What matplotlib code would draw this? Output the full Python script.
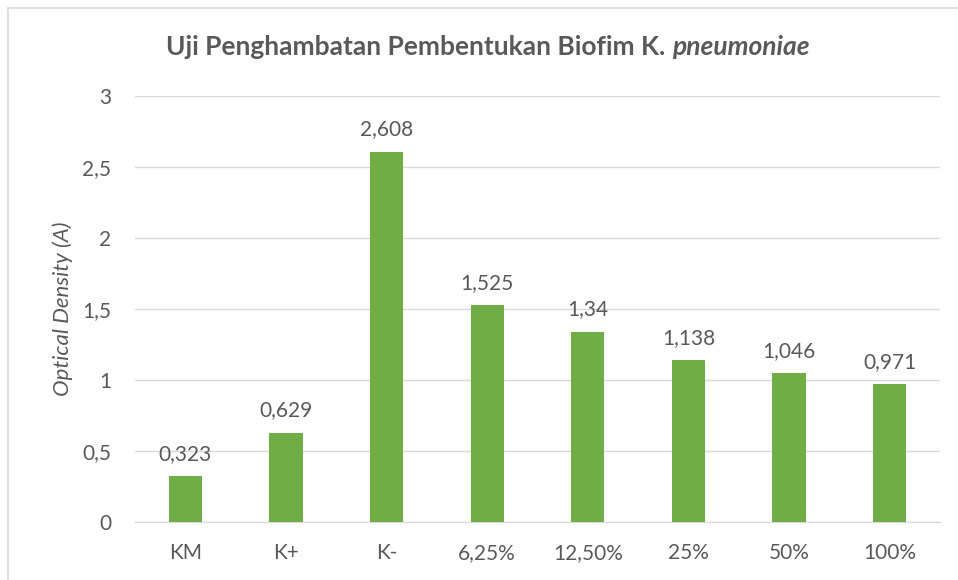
import matplotlib.pyplot as plt
from matplotlib.lines import Line2D

categories = ["KM", "K+", "K-", "6,25%", "12,50%", "25%", "50%", "100%"]
values = [0.323, 0.629, 2.608, 1.525, 1.34, 1.138, 1.046, 0.971]
value_labels = ["0,323", "0,629", "2,608", "1,525", "1,34", "1,138", "1,046", "0,971"]
yticks = [0, 0.5, 1, 1.5, 2, 2.5, 3]
ytick_labels = ["0", "0,5", "1", "1,5", "2", "2,5", "3"]

TEXT = "#595959"
GRID = "#D9D9D9"
BAR = "#70AD47"

plt.rcParams["font.family"] = ["Lato", "DejaVu Sans"]

fig = plt.figure(figsize=(9.58, 5.8), dpi=100)
ax = fig.add_axes([0.1409, 0.1, 0.8403, 0.7345])

x = range(len(categories))
ax.bar(x, values, width=0.33, color=BAR, zorder=3)
for xi, v, lbl in zip(x, values, value_labels):
    ax.annotate(lbl, (xi, v), xytext=(0, 9), textcoords="offset points",
                ha="center", va="bottom", fontsize=15, color=TEXT)

ax.set_xlim(-0.5, len(categories) - 0.5)
ax.set_ylim(0, 3)
ax.set_yticks(yticks)
ax.set_yticklabels(ytick_labels)
ax.set_xticks(list(x))
ax.set_xticklabels(categories)
ax.tick_params(axis="both", length=0, labelsize=15, labelcolor=TEXT)
ax.tick_params(axis="x", pad=15)
ax.tick_params(axis="y", pad=17)
ax.yaxis.grid(True, color=GRID, linewidth=1, zorder=0)
for s in ["top", "right", "left"]:
    ax.spines[s].set_visible(False)
ax.spines["bottom"].set_color(GRID)

ax.set_ylabel("Optical Density (A)", fontsize=16, color=TEXT, style="italic", labelpad=7)

# title: upright part + italic species name, placed side by side
t1 = fig.text(0.1733, 0.919, "Uji Penghambatan Pembentukan Biofim K. ", ha="left", va="center",
              fontsize=19, fontweight="bold", color=TEXT)
renderer = fig.canvas.get_renderer()
bb = t1.get_window_extent(renderer).transformed(fig.transFigure.inverted())
fig.text(bb.x1, 0.919, "pneumoniae", ha="left", va="center",
         fontsize=19, fontweight="bold", style="italic", color=TEXT)

# chart border (only top and left edges visible in the crop)
fig.add_artist(Line2D([0.0085, 1.0], [0.986, 0.986], color=GRID, linewidth=1.2))
fig.add_artist(Line2D([0.0085, 0.0085], [0.0, 0.986], color=GRID, linewidth=1.2))

fig.savefig("out.png", dpi=100)
